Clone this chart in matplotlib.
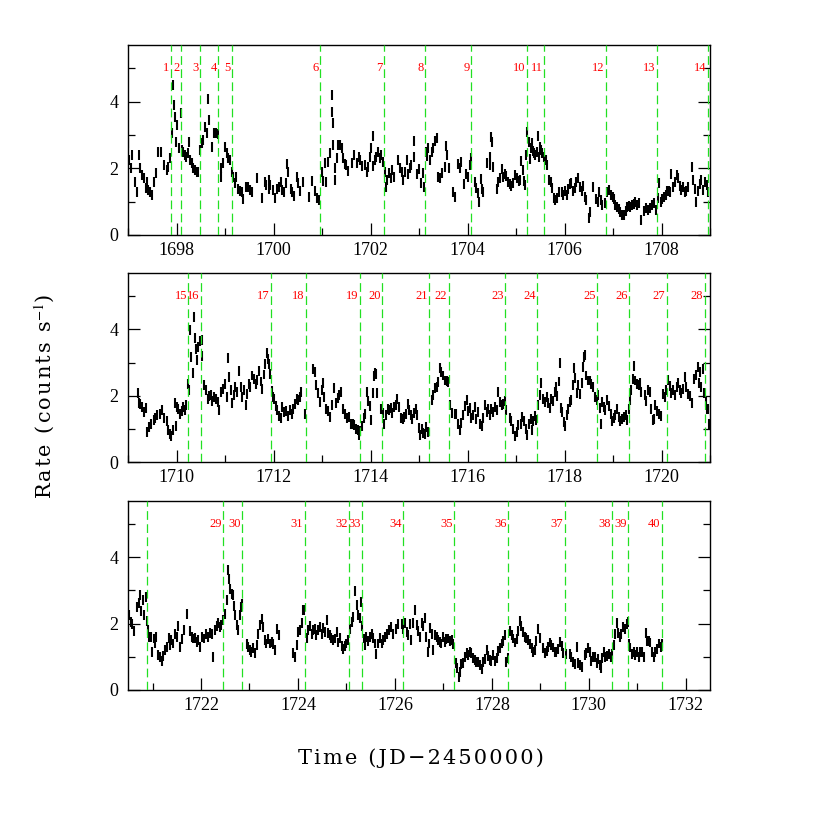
import matplotlib
matplotlib.use("Agg")
import matplotlib.pyplot as plt
import numpy as np

######################################
# light curve values (time in JD-2450000, rate in counts/s)
t_p1 = [1697.00, 1697.01, 1697.05, 1697.07, 1697.14, 1697.17, 1697.22, 1697.24, 1697.29, 1697.32,
        1697.36, 1697.39, 1697.41, 1697.45, 1697.48, 1697.54, 1697.57, 1697.62, 1697.67, 1697.74,
        1697.79, 1697.82, 1697.86, 1697.91, 1697.93, 1697.95, 1697.96, 1697.98, 1698.01, 1698.04,
        1698.08, 1698.10, 1698.13, 1698.17, 1698.20, 1698.24, 1698.25, 1698.27, 1698.31, 1698.34,
        1698.37, 1698.41, 1698.44, 1698.48, 1698.51, 1698.55, 1698.58, 1698.62, 1698.65, 1698.66,
        1698.72, 1698.77, 1698.81, 1698.86, 1698.91, 1698.92, 1698.96, 1698.99, 1699.03, 1699.06,
        1699.10, 1699.13, 1699.16, 1699.20, 1699.23, 1699.27, 1699.30, 1699.35, 1699.37, 1699.42,
        1699.47, 1699.51, 1699.56, 1699.65, 1699.76, 1699.82, 1699.85, 1699.90, 1699.91, 1699.93,
        1699.99, 1700.02, 1700.06, 1700.11, 1700.14, 1700.18, 1700.22, 1700.25, 1700.28, 1700.30,
        1700.35, 1700.38, 1700.42, 1700.47, 1700.51, 1700.54, 1700.61, 1700.73, 1700.79, 1700.85,
        1700.90, 1700.94,
        1700.99, 1701.01, 1701.06, 1701.08, 1701.12, 1701.16, 1701.20, 1701.21, 1701.22, 1701.23,
        1701.26, 1701.27, 1701.30, 1701.33, 1701.37, 1701.40, 1701.43, 1701.47, 1701.50, 1701.54,
        1701.61, 1701.66, 1701.71, 1701.76, 1701.79, 1701.83, 1701.88, 1701.92, 1701.95, 1701.98,
        1702.00, 1702.04, 1702.05, 1702.09, 1702.12, 1702.16, 1702.19, 1702.22, 1702.26, 1702.29,
        1702.31, 1702.34, 1702.38, 1702.41, 1702.44, 1702.48, 1702.57, 1702.60, 1702.64, 1702.67,
        1702.71, 1702.75, 1702.77, 1702.81, 1702.84, 1702.89, 1702.90, 1702.95, 1702.99, 1703.03,
        1703.07, 1703.10, 1703.14, 1703.17, 1703.19, 1703.22, 1703.26, 1703.29, 1703.32, 1703.36,
        1703.39, 1703.43, 1703.48, 1703.53, 1703.55, 1703.58, 1703.62, 1703.69, 1703.74, 1703.81,
        1703.84, 1703.87, 1703.93, 1703.96, 1704.01, 1704.05, 1704.07, 1704.15, 1704.18, 1704.22,
        1704.24, 1704.27, 1704.29, 1704.32, 1704.41, 1704.46, 1704.47, 1704.49, 1704.51, 1704.53,
        1704.60, 1704.63, 1704.66, 1704.70, 1704.73, 1704.77, 1704.80, 1704.84, 1704.87, 1704.90,
        1704.94, 1704.97, 1705.01, 1705.06,
        1705.08, 1705.11, 1705.15, 1705.17, 1705.19, 1705.21, 1705.23, 1705.26, 1705.28, 1705.30,
        1705.33, 1705.35, 1705.37, 1705.40, 1705.43, 1705.45, 1705.47, 1705.50, 1705.52, 1705.54,
        1705.57, 1705.61, 1705.64, 1705.68, 1705.71, 1705.74, 1705.78, 1705.81, 1705.85, 1705.88,
        1705.94, 1705.97, 1706.00, 1706.04, 1706.07, 1706.11, 1706.14, 1706.18, 1706.21, 1706.24,
        1706.28, 1706.31, 1706.35, 1706.38, 1706.42, 1706.45, 1706.50, 1706.52, 1706.59, 1706.64,
        1706.68, 1706.71, 1706.75, 1706.78, 1706.83, 1706.88, 1706.91, 1706.95, 1706.99, 1707.02,
        1707.05, 1707.08, 1707.12, 1707.15, 1707.19, 1707.22, 1707.26, 1707.29, 1707.32, 1707.36,
        1707.39, 1707.43, 1707.46, 1707.50, 1707.53, 1707.57, 1707.64, 1707.69, 1707.72, 1707.76,
        1707.80, 1707.85, 1707.88, 1707.92, 1707.94, 1707.98, 1708.02, 1708.05, 1708.09, 1708.12,
        1708.15, 1708.18, 1708.20, 1708.24, 1708.27, 1708.31, 1708.34, 1708.38, 1708.41, 1708.44,
        1708.48, 1708.51, 1708.55, 1708.62, 1708.65, 1708.69, 1708.72, 1708.75, 1708.79, 1708.82,
        1708.86, 1708.89, 1708.93, 1708.95]
rate_p1 = [2.75, 2.25, 2.0, 2.4, 1.6, 1.3, 2.4, 2.0, 1.8, 1.7,
           1.4, 1.6, 1.35, 1.3, 1.2, 1.6, 1.85, 2.5, 2.5, 2.1,
           1.95, 2.05, 2.3, 3.05, 4.5, 3.9, 3.55, 2.8, 3.3, 2.6,
           3.65, 2.55, 2.5, 2.4, 2.35, 2.45, 2.8, 2.25, 2.15, 2.0,
           1.95, 1.9, 1.9, 2.55, 2.75, 2.85, 3.25, 3.05, 4.07, 3.45,
           2.65, 3.05, 3.05, 3.02, 2.0, 1.75, 2.15, 2.63, 2.45, 2.3,
           2.25, 1.9, 1.75, 1.55, 1.73, 1.38, 1.33, 1.3, 1.08, 1.45,
           1.45, 1.35, 1.28, 1.72, 1.1, 1.6, 1.5, 1.65, 1.38, 1.5,
           1.35, 1.1, 1.38, 1.43, 1.6, 1.35, 1.28, 1.55, 2.12, 1.88,
           1.38, 1.3, 1.18, 1.75, 1.57, 1.33, 1.6, 1.15, 1.63, 1.33,
           1.1, 1.05,
           1.9, 1.63, 2.17, 1.6, 2.2, 2.45, 4.2, 3.7, 3.35, 2.7,
           2.0, 1.65, 2.3, 2.7, 2.7, 2.6, 2.3, 2.12, 2.1, 1.92,
           2.15, 2.4, 2.15, 2.35, 2.25, 2.08, 2.1, 1.88, 2.03, 2.35,
           2.6, 2.97, 2.08, 2.25, 2.35, 2.48, 2.3, 2.4, 2.18, 1.88,
           1.43, 1.65, 1.85, 1.7, 1.95, 1.73, 2.25, 2.0, 1.88, 1.65,
           1.9, 2.25, 1.83, 2.0, 2.1, 2.83, 2.33, 1.83, 1.98, 1.55,
           1.85, 1.45, 2.5, 2.38, 2.62, 2.25, 2.5, 2.6, 2.83, 2.9,
           1.75, 1.7, 1.85, 2.05, 2.68, 2.4, 2.0, 1.3, 1.13, 2.13,
           2.0, 2.2, 1.53, 1.83, 1.73, 2.1, 2.32, 1.6, 1.4, 1.25,
           1.0, 1.68, 1.38, 1.3, 2.15, 2.1, 2.35, 2.93, 2.78, 2.05,
           1.38, 1.58, 1.7, 1.98, 1.75, 1.83, 1.78, 1.6, 1.53, 1.48,
           1.55, 1.8, 1.7, 1.63,
           1.65, 2.23, 1.95, 1.63, 1.5, 2.4, 3.1, 2.8, 2.27, 2.6,
           2.75, 2.53, 2.45, 2.4, 2.48, 2.98, 2.35, 2.65, 2.55, 2.45,
           2.35, 2.25, 2.1, 1.65, 1.6, 1.4, 1.1, 1.05, 1.12, 1.3,
           1.3, 1.2, 1.33, 1.2, 1.38, 1.53, 1.55, 1.33, 1.4, 1.58,
           1.7, 1.43, 1.33, 1.48, 1.15, 1.05, 0.52, 0.7, 1.45, 1.07,
           1.0, 1.3, 1.05, 0.9, 0.95, 1.28, 1.35, 1.2, 1.15, 1.08,
           0.9, 0.83, 0.78, 0.7, 0.6, 0.6, 0.72, 0.83, 0.88, 0.83,
           0.9, 0.93, 1.0, 0.9, 0.95, 0.45, 0.72, 0.8, 0.75, 0.8,
           0.9, 0.95, 0.75, 1.1, 1.55, 1.0, 1.08, 1.15, 1.2, 1.33,
           1.33, 1.28, 1.83, 1.45, 1.6, 1.8, 1.7, 1.48, 1.35, 1.45,
           1.28, 1.33, 1.43, 2.05, 1.65, 1.38, 1.0, 1.33, 1.53, 1.65,
           1.35, 1.6, 1.5, 1.3]

t_p2 = [1709.19, 1709.22, 1709.25, 1709.29, 1709.32, 1709.36, 1709.39, 1709.43, 1709.47, 1709.52,
        1709.56, 1709.60, 1709.65, 1709.69, 1709.74, 1709.79, 1709.82, 1709.86, 1709.89, 1709.93,
        1709.96, 1709.98, 1710.00, 1710.03, 1710.07, 1710.10, 1710.13, 1710.17, 1710.20, 1710.24,
        1710.26, 1710.28, 1710.30, 1710.33, 1710.36, 1710.37, 1710.39, 1710.42, 1710.44, 1710.48,
        1710.51, 1710.53, 1710.57, 1710.60, 1710.64, 1710.66, 1710.70, 1710.73, 1710.77, 1710.80,
        1710.84, 1710.88, 1710.92, 1710.96, 1710.99, 1711.03, 1711.06, 1711.08, 1711.12, 1711.14,
        1711.18, 1711.21, 1711.25, 1711.28, 1711.32, 1711.35, 1711.38, 1711.42, 1711.45, 1711.49,
        1711.52, 1711.56, 1711.59, 1711.63, 1711.66, 1711.69, 1711.73, 1711.76, 1711.79, 1711.83,
        1711.86, 1711.89, 1711.91, 1711.93, 1711.96, 1711.98, 1712.01, 1712.04, 1712.07, 1712.11,
        1712.14, 1712.18, 1712.22, 1712.26, 1712.30, 1712.33, 1712.37, 1712.40, 1712.44, 1712.47,
        1712.51, 1712.54, 1712.57, 1712.64, 1712.81, 1712.85, 1712.88, 1712.92, 1712.95, 1712.99,
        1713.02,
        1713.04, 1713.08, 1713.12, 1713.16, 1713.21, 1713.24, 1713.28, 1713.32, 1713.35, 1713.39,
        1713.43, 1713.48, 1713.52, 1713.56, 1713.59, 1713.63, 1713.66, 1713.70, 1713.73, 1713.76,
        1713.79, 1713.83, 1713.86, 1713.89, 1713.93, 1713.95, 1713.98, 1714.00, 1714.04, 1714.07,
        1714.09, 1714.11, 1714.14, 1714.21, 1714.25, 1714.28, 1714.31, 1714.35, 1714.38, 1714.42,
        1714.45, 1714.49, 1714.52, 1714.55, 1714.59, 1714.62, 1714.66, 1714.69, 1714.73, 1714.76,
        1714.80, 1714.83, 1714.86, 1714.90, 1714.93, 1714.95, 1714.99, 1715.01, 1715.05, 1715.08,
        1715.12, 1715.15, 1715.19, 1715.26, 1715.29, 1715.32, 1715.36, 1715.39, 1715.43, 1715.46,
        1715.50, 1715.53, 1715.57, 1715.60, 1715.63, 1715.68, 1715.74, 1715.77, 1715.81, 1715.84,
        1715.87, 1715.91, 1715.94, 1715.98, 1716.01, 1716.05, 1716.08, 1716.12, 1716.15, 1716.18,
        1716.22, 1716.25, 1716.29, 1716.32, 1716.36, 1716.39, 1716.42, 1716.46, 1716.49, 1716.53,
        1716.56, 1716.60, 1716.63, 1716.66, 1716.70, 1716.73, 1716.77, 1716.80, 1716.87, 1716.90,
        1716.94, 1716.97, 1717.01, 1717.04,
        1717.10, 1717.13, 1717.17, 1717.20, 1717.23, 1717.26, 1717.30, 1717.32, 1717.35, 1717.39,
        1717.42, 1717.45, 1717.49, 1717.52, 1717.56, 1717.59, 1717.63, 1717.66, 1717.69, 1717.73,
        1717.76, 1717.80, 1717.83, 1717.85, 1717.88, 1717.90, 1717.92, 1717.95, 1717.98, 1718.00,
        1718.04, 1718.07, 1718.11, 1718.14, 1718.18, 1718.20, 1718.22, 1718.25, 1718.28, 1718.31,
        1718.35, 1718.38, 1718.40, 1718.43, 1718.45, 1718.49, 1718.52, 1718.55, 1718.59, 1718.62,
        1718.66, 1718.69, 1718.73, 1718.75, 1718.77, 1718.81, 1718.84, 1718.88, 1718.91, 1718.95,
        1718.98, 1719.01, 1719.05, 1719.08, 1719.12, 1719.15, 1719.19, 1719.22, 1719.26, 1719.29,
        1719.32, 1719.36, 1719.38, 1719.41, 1719.43, 1719.46, 1719.50, 1719.53, 1719.56, 1719.58,
        1719.65, 1719.69, 1719.72, 1719.76, 1719.79, 1719.83, 1719.85, 1719.87, 1719.91, 1719.94,
        1719.98, 1720.03, 1720.07, 1720.10, 1720.13, 1720.17, 1720.20, 1720.24, 1720.27, 1720.31,
        1720.34, 1720.38, 1720.41, 1720.44, 1720.48, 1720.51, 1720.55, 1720.58, 1720.62, 1720.68,
        1720.72, 1720.75, 1720.77, 1720.80, 1720.82, 1720.86, 1720.88, 1720.91, 1720.93, 1720.96]
rate_p2 = [2.08, 1.78, 1.76, 1.66, 1.5, 1.63, 0.91, 1.06, 1.14, 1.28,
           1.33, 1.41, 1.44, 1.58, 1.33, 1.24, 0.96, 0.86, 0.78, 0.98,
           1.79, 1.08, 1.66, 1.61, 1.46, 1.53, 1.66, 1.58, 1.73, 2.34,
           2.16, 3.98, 3.16, 2.69, 4.36, 3.74, 3.41, 3.08, 3.46, 3.66,
           3.69, 3.21, 2.31, 2.16, 1.91, 1.98, 2.03, 1.83, 1.96, 1.91,
           1.81, 1.56, 2.11, 2.21, 2.36, 1.96, 3.14, 2.56, 2.18, 1.78,
           2.01, 2.26, 2.11, 2.76, 2.26, 1.96, 2.16, 1.73, 2.06, 2.36,
           2.26, 2.61, 2.51, 2.36, 2.48, 2.76, 2.43, 2.21, 2.64, 2.96,
           3.28, 3.11, 2.96, 2.66, 2.13, 1.96, 1.89, 1.68, 1.56, 1.38,
           1.34, 1.66, 1.51, 1.53, 1.38, 1.58, 1.46, 1.61, 1.76, 1.89,
           1.86, 1.96, 2.11, 1.46, 2.81, 2.73, 2.31, 2.08, 1.8, 2.18,
           2.38,
           1.96, 1.61, 1.53, 1.36, 1.71, 2.23, 1.78, 1.93, 2.01, 2.11,
           1.61, 1.46, 1.34, 1.36, 1.16, 1.16, 1.11, 1.01, 0.98, 0.83,
           0.93, 1.08, 1.34, 1.44, 2.11, 1.83, 1.68, 1.26, 2.08, 2.6,
           2.68, 2.66, 2.08, 1.61, 1.48, 1.16, 1.43, 1.61, 1.56, 1.63,
           1.48, 1.66, 1.71, 1.91, 1.66, 1.34, 1.31, 1.36, 1.46, 1.76,
           1.56, 1.41, 1.31, 1.48, 1.61, 1.41, 1.04, 0.83, 1.0, 0.89,
           0.86, 1.06, 0.91, 1.88, 2.01, 2.23, 2.26, 2.41, 2.84, 2.71,
           2.61, 2.46, 2.44, 2.41, 1.71, 1.48, 1.44, 1.46, 1.16, 0.96,
           1.19, 1.41, 1.68, 1.86, 1.53, 1.63, 1.34, 1.41, 1.66, 1.31,
           1.51, 1.16, 1.08, 1.34, 1.71, 1.51, 1.61, 1.43, 1.61, 1.51,
           1.66, 1.56, 2.11, 1.81, 1.71, 1.76, 1.83, 1.56, 1.34, 1.24,
           1.01, 0.78, 0.91, 1.11,
           1.16, 1.36, 1.23, 1.01, 0.81, 1.16, 1.31, 0.96, 1.23, 1.38,
           1.26, 1.71, 2.03, 2.38, 1.91, 1.81, 1.96, 1.78, 1.63, 1.91,
           1.83, 2.11, 2.26, 1.98, 2.43, 2.98, 1.63, 1.51, 1.21, 1.08,
           1.43, 1.61, 1.81, 1.88, 2.33, 2.83, 2.53, 2.08, 2.31, 2.06,
           2.38, 2.86, 3.16, 3.23, 2.61, 2.46, 2.46, 2.36, 2.26, 1.96,
           1.86, 2.01, 1.63, 1.14, 1.81, 1.66, 1.56, 1.86, 1.68, 1.46,
           1.23, 1.33, 1.43, 1.61, 1.36, 1.23, 1.31, 1.36, 1.41, 1.26,
           1.61, 1.88, 2.16, 2.51, 2.91, 2.46, 2.36, 2.31, 2.38, 2.11,
           2.01, 1.83, 2.16, 2.11, 1.61, 1.26, 1.31, 1.71, 1.53, 1.46,
           1.38, 2.06, 1.96, 2.16, 2.48, 2.28, 2.08, 2.18, 2.01, 2.26,
           2.38, 2.16, 2.08, 2.21, 2.56, 2.26, 2.06, 1.98, 1.78, 2.51,
           2.63, 2.86, 2.38, 2.71, 2.26, 2.81, 2.08, 1.81, 1.6, 1.61]

t_p3 = [1720.99, 1721.02, 1721.05, 1721.08, 1721.12, 1721.15, 1721.19, 1721.22, 1721.26, 1721.29,
        1721.33, 1721.36, 1721.39, 1721.43, 1721.46, 1721.50, 1721.53, 1721.57, 1721.60, 1721.65,
        1721.72, 1721.77, 1721.81, 1721.84, 1721.88, 1721.91, 1721.94, 1721.98, 1722.03, 1722.06,
        1722.10, 1722.14, 1722.18, 1722.22, 1722.25, 1722.29, 1722.32, 1722.36, 1722.39, 1722.42,
        1722.46, 1722.49, 1722.53, 1722.56, 1722.58, 1722.60, 1722.63, 1722.66, 1722.69, 1722.71,
        1722.74, 1722.77, 1722.80, 1722.82, 1722.84, 1722.94, 1722.97, 1723.01, 1723.04, 1723.08,
        1723.11, 1723.15, 1723.18, 1723.22, 1723.25, 1723.28, 1723.32, 1723.35, 1723.39, 1723.42,
        1723.46, 1723.49, 1723.53, 1723.56, 1723.61, 1723.90, 1723.94, 1723.97, 1724.01, 1724.04,
        1724.08, 1724.10, 1724.12, 1724.18, 1724.21, 1724.25, 1724.28, 1724.31, 1724.35, 1724.38,
        1724.42, 1724.45, 1724.49, 1724.52, 1724.56, 1724.59, 1724.62, 1724.66, 1724.69, 1724.73,
        1724.76, 1724.80, 1724.83, 1724.87, 1724.90, 1724.93, 1724.97, 1725.00, 1725.04, 1725.07,
        1725.11, 1725.14, 1725.18, 1725.21, 1725.24, 1725.28, 1725.31, 1725.33, 1725.36, 1725.39,
        1725.41, 1725.45, 1725.48, 1725.52, 1725.55, 1725.59, 1725.62, 1725.66, 1725.69, 1725.73,
        1725.76, 1725.80, 1725.83, 1725.87, 1725.92, 1725.97, 1726.03, 1726.07,
        1726.14, 1726.17, 1726.21, 1726.24, 1726.27, 1726.31, 1726.34, 1726.38, 1726.41, 1726.45,
        1726.48, 1726.51, 1726.55, 1726.58, 1726.62, 1726.65, 1726.69, 1726.71, 1726.73, 1726.76,
        1726.79, 1726.82, 1726.86, 1726.89, 1726.93, 1726.96, 1726.99, 1727.03, 1727.06, 1727.10,
        1727.13, 1727.17, 1727.20, 1727.26, 1727.28, 1727.32, 1727.34, 1727.37, 1727.41, 1727.44,
        1727.48, 1727.51, 1727.55, 1727.58, 1727.61, 1727.65, 1727.68, 1727.72, 1727.75, 1727.79,
        1727.82, 1727.86, 1727.89, 1727.92, 1727.96, 1727.99, 1728.03, 1728.06, 1728.10, 1728.13,
        1728.16, 1728.20, 1728.23, 1728.27, 1728.30, 1728.34, 1728.37, 1728.41, 1728.44, 1728.47,
        1728.51, 1728.54, 1728.58, 1728.61, 1728.65, 1728.68, 1728.71, 1728.75, 1728.78, 1728.82,
        1728.85, 1728.89, 1728.92, 1728.95, 1728.99, 1729.06, 1729.09, 1729.13, 1729.16, 1729.20,
        1729.23, 1729.26, 1729.30, 1729.33, 1729.37, 1729.40, 1729.44, 1729.47, 1729.52, 1729.61,
        1729.64, 1729.68, 1729.71, 1729.75, 1729.78, 1729.81, 1729.85, 1729.92, 1729.95, 1729.99,
        1730.02, 1730.05, 1730.09, 1730.12, 1730.16, 1730.19, 1730.23, 1730.26, 1730.28, 1730.31,
        1730.34, 1730.38, 1730.41, 1730.45, 1730.48, 1730.51, 1730.55, 1730.58, 1730.60, 1730.64,
        1730.67, 1730.71, 1730.74, 1730.78, 1730.80, 1730.82, 1730.86, 1730.89, 1730.93, 1730.96,
        1731.00, 1731.03, 1731.06, 1731.10, 1731.13, 1731.17, 1731.20, 1731.24, 1731.27, 1731.31,
        1731.34, 1731.37, 1731.41, 1731.44, 1731.48, 1731.51]
rate_p3 = [1.15, 1.55, 1.4, 1.6, 1.05, 1.0, 0.88, 1.03, 1.2, 1.3,
           1.58, 1.35, 1.5, 1.4, 1.7, 1.6, 1.93, 1.3, 1.53, 1.8,
           2.28, 1.78, 1.6, 1.55, 1.58, 1.45, 1.5, 1.3, 1.6, 1.55,
           1.7, 1.6, 1.73, 1.68, 0.98, 1.8, 1.93, 2.03, 1.9, 1.95,
           2.1, 2.28, 2.7, 3.6, 3.35, 3.05, 2.9, 2.85, 2.53, 2.25,
           1.95, 1.8, 2.25, 2.5, 2.6, 1.38, 1.3, 1.2, 1.15, 1.25,
           1.1, 1.35, 1.7, 1.95, 2.13, 1.9, 1.5, 1.4, 1.53, 1.4,
           1.45, 1.38, 1.2, 1.85, 1.65, 1.1, 0.98, 1.35, 1.75, 1.8,
           2.03, 2.4, 2.4, 1.58, 1.8, 1.93, 1.7, 1.8, 1.85, 1.65,
           1.8, 1.9, 1.68, 1.88, 1.75, 2.1, 1.73, 1.65, 1.58, 1.5,
           1.55, 1.75, 1.43, 1.58, 1.33, 1.23, 1.33, 1.4, 1.5, 1.85,
           2.05, 2.2, 2.98, 2.55, 2.25, 2.18, 2.65, 1.93, 1.55, 1.35,
           1.6, 1.48, 1.6, 1.68, 1.58, 1.4, 1.08, 1.4, 1.58, 1.4,
           1.5, 1.6, 1.7, 1.8, 1.9, 1.7, 1.85, 2.0,
           2.0, 1.83, 2.03, 1.75, 1.65, 2.0, 1.5, 2.03, 2.4, 1.95,
           1.78, 1.6, 2.03, 1.93, 2.18, 1.6, 1.15, 1.4, 1.88, 1.7,
           1.2, 1.65, 1.6, 1.5, 1.45, 1.4, 1.6, 1.45, 1.53, 1.55,
           1.48, 1.5, 1.38, 0.8, 0.65, 0.4, 0.55, 0.78, 0.8, 1.0,
           1.1, 1.05, 1.15, 1.1, 0.95, 0.9, 0.83, 0.85, 0.75, 0.63,
           0.83, 0.93, 1.2, 1.03, 0.9, 0.88, 1.05, 0.88, 0.95, 1.18,
           1.25, 1.4, 1.48, 1.65, 0.85, 0.95, 1.78, 1.65, 1.55, 1.43,
           1.53, 1.78, 2.08, 1.93, 1.75, 1.6, 1.58, 1.5, 1.38, 1.25,
           1.15, 1.2, 1.48, 1.83, 1.58, 1.25, 1.1, 1.18, 1.3, 1.43,
           1.35, 1.28, 1.15, 1.15, 1.23, 1.45, 1.33, 1.1, 1.08, 1.08,
           0.98, 0.85, 0.78, 1.3, 0.8, 0.75, 0.7, 1.05, 1.1, 1.25,
           1.15, 0.88, 1.0, 0.98, 0.8, 0.93, 0.75, 0.65, 0.95, 1.15,
           0.98, 1.03, 1.08, 0.98, 1.08, 1.35, 1.7, 2.03, 1.73, 1.6,
           1.7, 1.9, 1.85, 2.0, 2.05, 1.4, 1.28, 1.08, 1.13, 1.05,
           1.13, 0.98, 1.15, 1.13, 0.98, 1.73, 1.48, 1.48, 1.43, 1.13,
           0.98, 1.15, 1.23, 1.4, 1.3, 1.4]

rate_err = 0.15  # typical half length of the error bars

# dashed markers with their numbers
event_times = [1697.88, 1698.09, 1698.48, 1698.86, 1699.13, 1700.96, 1702.28, 1703.12, 1704.07, 1705.23,
               1705.58, 1706.86, 1707.90, 1708.96, 1710.24, 1710.50, 1711.95, 1712.67, 1713.78, 1714.24,
               1715.21, 1715.61, 1716.78, 1717.43, 1718.67, 1719.33, 1720.11, 1720.89, 1722.46, 1722.85,
               1724.14, 1725.06, 1725.32, 1726.17, 1727.22, 1728.33, 1729.50, 1730.48, 1730.81, 1731.50]
event_ids = [str(i) for i in range(1, 41)]

panel_start = [1697.0, 1709.0, 1720.5]
panel_span = 12.0
######################################


def spaced(text):
    #wide letter spacing of the original axis titles
    return '\u200a'.join(text)


times = np.array(t_p1 + t_p2 + t_p3)
rates = np.array(rate_p1 + rate_p2 + rate_p3)

plt.rcParams['font.family'] = ['Liberation Serif', 'DejaVu Serif']
plt.rcParams['mathtext.fontset'] = 'stix'

fig = plt.figure(figsize=(8.3, 8.3), dpi=100)

#axes boxes in figure fractions (left, bottom, width, height)
boxes = [[0.1546, 0.7169, 0.7008, 0.2289],
         [0.1546, 0.4430, 0.7008, 0.2284],
         [0.1546, 0.1687, 0.7008, 0.2280]]

labelled = set()
for k in range(3):
    ax = fig.add_axes(boxes[k])
    x0 = panel_start[k]
    x1 = x0 + panel_span
    ax.set_xlim(x0, x1)
    ax.set_ylim(0, 5.7)

    # light curve as vertical error bars
    ax.vlines(times, rates - rate_err, rates + rate_err, color='black', lw=1.5, zorder=2)

    # dashed green markers and red numbers
    for t, lab in zip(event_times, event_ids):
        if x0 <= t <= x1:
            ax.axvline(t, color='#22e022', lw=0.9, dashes=(7, 3.5), zorder=3)
            if lab not in labelled:
                ax.annotate(lab, xy=(t, 5.0), xytext=(-1, 0), textcoords='offset points',
                            ha='right', va='center', color='red', fontsize=9, zorder=4)
                labelled.add(lab)

    #ticks like the original: inward, left/right/bottom
    ax.set_xticks(np.arange(np.ceil(x0 / 2) * 2, x1 + 0.01, 2))
    ax.set_xticks(np.arange(np.ceil(x0), x1 + 0.01, 1), minor=True)
    ax.set_yticks([0, 2, 4])
    ax.set_yticks([1, 3, 5], minor=True)
    ax.tick_params(which='both', direction='in', left=True, right=True, bottom=True, top=False,
                   width=0.9, color='black')
    ax.tick_params(which='major', length=8.5)
    ax.tick_params(which='minor', length=4.8)
    ax.tick_params(axis='x', labelsize=13, pad=5)
    ax.tick_params(axis='y', labelsize=13, pad=7)
    for s in ax.spines.values():
        s.set_linewidth(1.0)

fig.text(0.507, 0.087, spaced('Time (JD\u22122450000)'), ha='center', va='center', fontsize=15,
         family='DejaVu Serif')
fig.text(0.054, 0.522, spaced('Rate (counts s') + '$^{-1}$)', ha='center', va='center', fontsize=15,
         rotation=90, family='DejaVu Serif')

fig.savefig('out.png', dpi=100)
